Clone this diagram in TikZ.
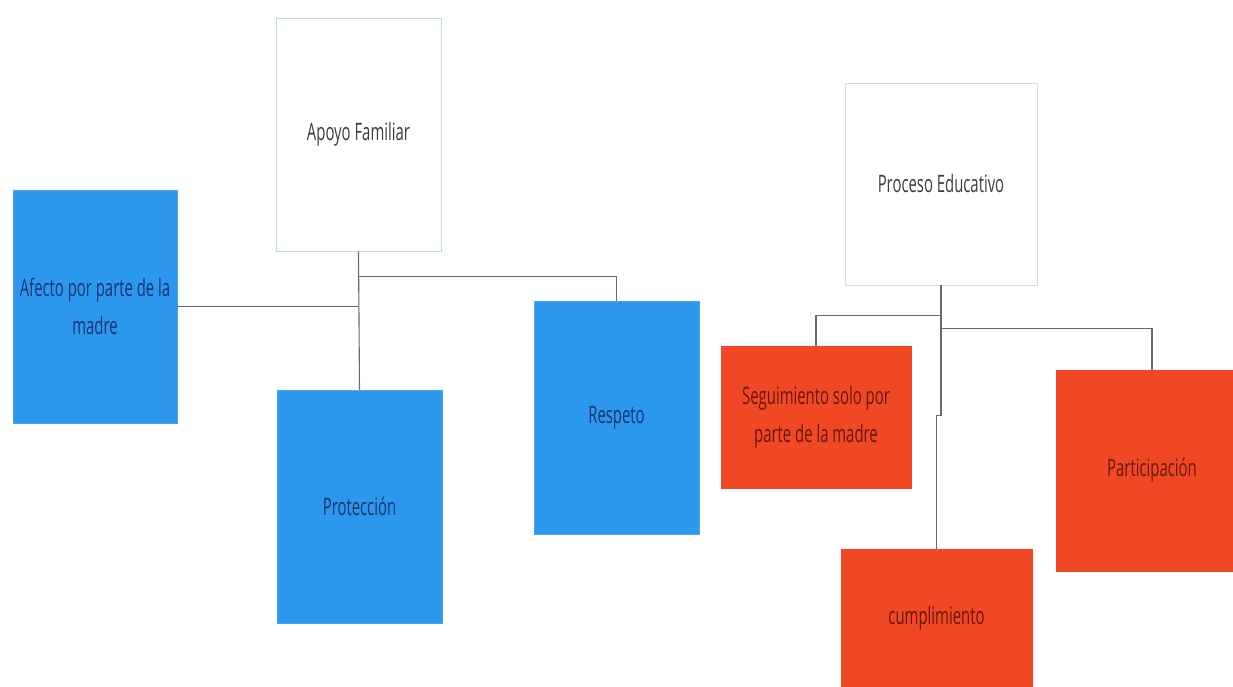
\documentclass[tikz,border=0pt]{standalone}
\usepackage{fontspec}
\setmainfont{Open Sans}[FakeStretch=0.62]
\definecolor{bluebox}{RGB}{43,152,237}
\definecolor{redbox}{RGB}{240,72,36}
\definecolor{bluetext}{RGB}{22,52,110}
\definecolor{redtext}{RGB}{105,22,12}
\definecolor{greytext}{RGB}{60,60,60}
\definecolor{lineg}{RGB}{105,105,105}
\definecolor{apoyoborder}{RGB}{185,220,235}
\definecolor{procborder}{RGB}{228,216,208}
\tikzset{
  base/.style={rectangle, inner sep=0pt, align=center, font=\fontsize{24}{38}\selectfont},
  whitebox/.style={base, fill=white, draw=#1, line width=0.8pt, text=greytext},
  bluebx/.style={base, fill=bluebox, draw=bluebox!85!white, text=bluetext},
  redbx/.style={base, fill=redbox, draw=redbox, text=redtext},
  conn/.style={draw=lineg, line width=1.1pt}
}
\begin{document}
\begin{tikzpicture}[x=1pt,y=-1pt]
\useasboundingbox (0,0) rectangle (1233,687);
\clip (0,0) rectangle (1233,687);
\fill[white] (0,0) rectangle (1233,687);
% nodes
\node[whitebox=apoyoborder, minimum width=165pt, minimum height=233pt] (apoyo) at (358.5,134.5) {Apoyo Familiar};
\node[bluebx, minimum width=164pt, minimum height=233pt] (afecto) at (95,306.5) {Afecto por parte de la\\madre};
\node[bluebx, minimum width=165pt, minimum height=233pt] (prot) at (359.5,506.5) {Protección};
\node[bluebx, minimum width=165pt, minimum height=233pt] (resp) at (616.5,418) {Respeto};
\node[whitebox=procborder, minimum width=192pt, minimum height=202pt] (proc) at (941,184) {Proceso Educativo};
\node[redbx, minimum width=190pt, minimum height=142pt] (seg) at (816,417) {Seguimiento solo por\\parte de la madre};
\node[redbx, minimum width=192pt, minimum height=201pt] (part) at (1152,470.5) {Participación};
\node[redbx, minimum width=191pt, minimum height=138pt] (cump) at (936.5,618) {cumplimiento};
% connectors
\draw[conn] (apoyo.south) -- (prot.north);
\draw[conn] (apoyo.south) ++(0,25) -| (resp.north);
\draw[conn] (afecto.east) -- (afecto.east -| apoyo.south);
\draw[conn] (proc.south) ++(0,30) -| (seg.north);
\draw[conn] (proc.south) ++(0,43) -| (part.north);
\draw[conn] (proc.south) -- ++(0,130) -| (cump.north);
\end{tikzpicture}
\end{document}
